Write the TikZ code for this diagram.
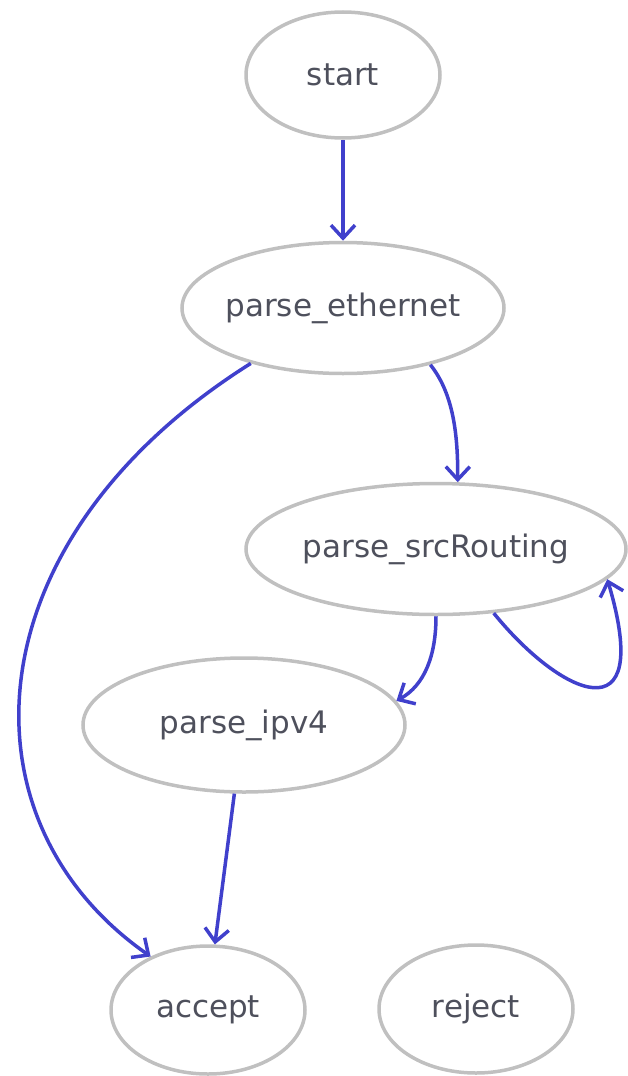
\documentclass[tikz,border=0pt]{standalone}
\usepackage{fontspec}
\setmainfont{DejaVu Sans}
\usetikzlibrary{shapes.geometric,arrows.meta}
\definecolor{edgecol}{RGB}{64,64,204}
\definecolor{nodecol}{RGB}{192,192,192}
\definecolor{textcol}{RGB}{78,80,92}
\newcommand{\zbox}[1]{\makebox[0pt]{#1}}
\tikzset{
  state/.style={ellipse, draw=nodecol, line width=3.5pt, inner sep=0pt,
    font=\fontsize{31}{36}\selectfont, text=textcol},
  edge/.style={draw=edgecol, line width=3.5pt,
    -{Straight Barb[length=13pt,width=24pt,line width=3.5pt]}}
}
\begin{document}
\begin{tikzpicture}[x=1pt,y=-1pt]
\useasboundingbox (0,0) rectangle (628,1076);
\node[state, minimum width=194pt, minimum height=126pt] (start) at (343,75) {\zbox{start}};
\node[state, minimum width=322pt, minimum height=131pt] (pe) at (343,308) {\zbox{parse\_ethernet}};
\node[state, minimum width=380pt, minimum height=131pt] (psr) at (436,549) {\zbox{parse\_srcRouting}};
\node[state, minimum width=322pt, minimum height=134pt] (ipv4) at (244,725) {\zbox{parse\_ipv4}};
\node[state, minimum width=194pt, minimum height=128pt] (accept) at (208,1010) {\zbox{accept}};
\node[state, minimum width=194pt, minimum height=128pt] (reject) at (476,1009) {\zbox{reject}};

\draw[edge] (start.south) -- (pe.north);
\draw[edge] (pe.-33) .. controls (452,392) and (458,430) .. (psr.72);
\draw[edge] (pe.-149) .. controls (-30,540) and (-45,820) .. (accept.137);
\draw[edge] (psr.south) .. controls (436,655) and (425,685) .. (ipv4.9);
\draw[edge] (psr.-48) .. controls (560,695) and (655,740) .. (psr.-10);
\draw[edge] (ipv4.-98) -- (accept.84);
\end{tikzpicture}
\end{document}
